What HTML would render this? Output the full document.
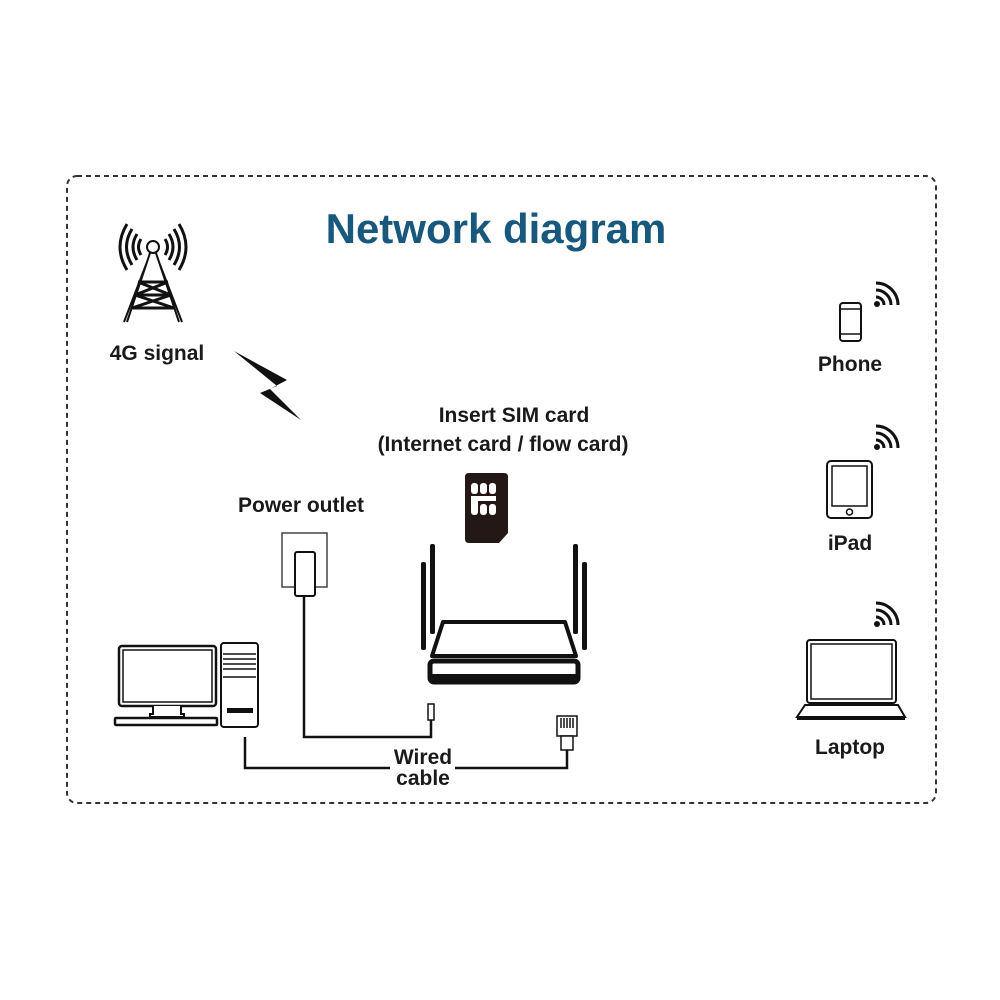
<!DOCTYPE html>
<html><head><meta charset="utf-8"><style>
html,body{margin:0;padding:0;background:#fff;}
svg{display:block;}
text{font-family:"Liberation Sans",Arial,sans-serif;font-weight:bold;fill:#1a1a1a;}
</style></head><body>
<svg width="1000" height="1000" viewBox="0 0 1000 1000" xmlns="http://www.w3.org/2000/svg">
<rect x="67" y="176" width="869" height="627" rx="10" fill="none" stroke="#333" stroke-width="2" stroke-dasharray="5,4"/>
<text x="496" y="243" font-size="42" text-anchor="middle" style="fill:#17587c">Network diagram</text>

<!-- tower -->
<g fill="none" stroke="#111" stroke-width="2">
<circle cx="153" cy="247" r="6"/>
<path d="M150 253 L127 322 M156 253 L179 322 M147 262 L124 322 M159 262 L182 322" />
<path d="M138 282 L168 282 M135 295 L171 295 M132 308 L174 308 M138 282 L171 295 M168 282 L135 295 M135 295 L174 308 M171 295 L132 308" stroke-width="3"/>
<path d="M141 239 Q136 247 141 255 M137 234 Q129 247 137 260 M132 229 Q121 247 132 265 M127 224 Q113 247 127 270" stroke-width="3"/>
<path d="M165 239 Q170 247 165 255 M169 234 Q177 247 169 260 M174 229 Q185 247 174 265 M179 224 Q193 247 179 270" stroke-width="3"/>
</g>
<text x="157" y="360" font-size="21" text-anchor="middle">4G signal</text>
<polygon points="234,351 287,380 270,389 301,420 260,393 277,386" fill="#111"/>

<text x="514" y="422" font-size="21" text-anchor="middle">Insert SIM card</text>
<text x="503" y="451" font-size="21" text-anchor="middle">(Internet card / flow card)</text>
<path d="M469 473 H504 Q508 473 508 477 V533 L499 543 H469 Q465 543 465 539 V477 Q465 473 469 473Z" fill="#231815"/>
<g fill="#fff"><rect x="471" y="483" width="7" height="11" rx="3"/><rect x="480" y="483" width="7" height="11" rx="3"/><rect x="489" y="483" width="7" height="11" rx="3"/><rect x="471" y="496" width="7" height="19" rx="3"/><rect x="480" y="504" width="7" height="11" rx="3"/><rect x="489" y="504" width="7" height="11" rx="3"/><rect x="471" y="496" width="25" height="5"/></g>

<text x="301" y="512" font-size="21" text-anchor="middle">Power outlet</text>
<rect x="282" y="533" width="45" height="54" fill="#fff" stroke="#444" stroke-width="1.5"/>
<rect x="295" y="552" width="20" height="44" rx="2" fill="#fff" stroke="#111" stroke-width="2"/>
<path d="M304 596 V737 H431 V720" fill="none" stroke="#111" stroke-width="2.5"/>
<rect x="428" y="704" width="6" height="16" fill="#fff" stroke="#111" stroke-width="1.5"/>

<!-- router -->
<g fill="#111">
<rect x="421" y="562" width="5" height="88" rx="2"/>
<rect x="430" y="544" width="5" height="90" rx="2"/>
<rect x="573" y="544" width="5" height="90" rx="2"/>
<rect x="582" y="562" width="5" height="88" rx="2"/>
</g>
<path d="M443 622 H565 L576 656 H432 Z" fill="#fff" stroke="#111" stroke-width="4" stroke-linejoin="round"/>
<rect x="430" y="661" width="148" height="21" rx="4" fill="#fff" stroke="#111" stroke-width="5"/>
<rect x="432" y="674" width="144" height="8" fill="#111"/>

<!-- computer -->
<rect x="119" y="646" width="97" height="60" rx="3" fill="#fff" stroke="#111" stroke-width="2.5"/>
<rect x="123" y="650" width="89" height="52" fill="#fff" stroke="#111" stroke-width="1.5"/>
<path d="M153 706 V714 H150 V717 H184 V714 H181 V706" fill="#fff" stroke="#111" stroke-width="2"/>
<rect x="115" y="718" width="102" height="7" rx="1" fill="#fff" stroke="#111" stroke-width="2.5"/>
<rect x="221" y="643" width="37" height="84" rx="3" fill="#fff" stroke="#111" stroke-width="2"/>
<path d="M223 654 H256 M223 659 H256 M223 664 H256 M223 669 H256 M223 677 H256" stroke="#111" stroke-width="1.5"/>
<rect x="227" y="708" width="26" height="5" fill="#111"/>
<path d="M245 737 V768 H390 M455 768 H567 V750" fill="none" stroke="#111" stroke-width="2.5"/>
<rect x="557" y="716" width="20" height="20" fill="#fff" stroke="#111" stroke-width="1.5"/>
<path d="M561 718 V728 M564 718 V728 M567 718 V728 M570 718 V728 M573 718 V728" stroke="#111" stroke-width="1.5"/>
<rect x="561" y="736" width="12" height="14" fill="#fff" stroke="#111" stroke-width="1.5"/>
<text x="423" y="764" font-size="21" text-anchor="middle">Wired</text>
<text x="423" y="785" font-size="21" text-anchor="middle">cable</text>

<!-- wifi icons -->
<g id="w" fill="none" stroke="#111" stroke-width="3">
<path d="M876 297 A8 8 0 0 1 884 305"/>
<path d="M876 290 A15 15 0 0 1 891 305"/>
<path d="M876 283 A22 22 0 0 1 898 305"/>
<circle cx="877" cy="304" r="1.5" fill="#111"/>
</g>
<use href="#w" transform="translate(0,143)"/>
<use href="#w" transform="translate(0,320)"/>

<!-- phone -->
<rect x="840" y="303" width="21" height="38" rx="3" fill="#fff" stroke="#111" stroke-width="2"/>
<path d="M840 309 H861 M840 334 H861" stroke="#111" stroke-width="1.5"/>
<text x="850" y="371" font-size="21" text-anchor="middle">Phone</text>

<!-- ipad -->
<rect x="827" y="461" width="45" height="57" rx="4" fill="#fff" stroke="#111" stroke-width="2"/>
<rect x="832" y="466" width="35" height="40" fill="#fff" stroke="#111" stroke-width="1.5"/>
<circle cx="849.5" cy="512" r="3" fill="none" stroke="#111" stroke-width="1.5"/>
<text x="850" y="550" font-size="21" text-anchor="middle">iPad</text>

<!-- laptop -->
<rect x="807" y="640" width="89" height="63" rx="3" fill="#fff" stroke="#111" stroke-width="2"/>
<rect x="811" y="644" width="81" height="55" fill="#fff" stroke="#111" stroke-width="1.5"/>
<path d="M805 705 H898 L905 717 H797 Z" fill="#fff" stroke="#111" stroke-width="2"/>
<rect x="797" y="716" width="108" height="4" fill="#111"/>
<text x="850" y="754" font-size="21" text-anchor="middle">Laptop</text>
</svg>
</body></html>
